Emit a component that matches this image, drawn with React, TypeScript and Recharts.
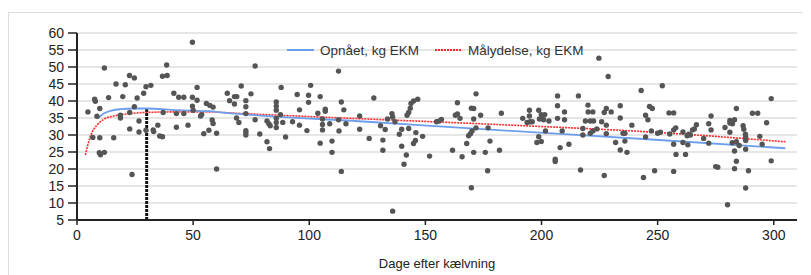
import { ComposedChart, CartesianGrid, Line, Scatter, XAxis, YAxis } from "recharts";

const FONT = '"Liberation Sans", Arial, sans-serif';

// observed cows: [day after calving, kg EKM]
const cowPoints: [number, number][] = [
  [4.7, 36.8], [7.6, 40.5], [7.9, 39.9], [6.8, 29.3], [8.6, 35.5], [9.8, 37.8], [9.8, 29.2],
  [9.6, 24.8], [10.1, 24.2], [11.8, 24.9], [11.8, 49.7], [13.6, 41.0], [15.8, 29.2], [16.8, 45.0],
  [18.7, 35.0], [18.7, 35.8], [19.7, 41.3], [20.8, 44.8], [22.6, 47.5], [24.7, 46.8], [22.7, 36.6],
  [22.7, 31.8], [23.7, 18.4], [24.7, 38.3], [25.9, 40.9], [26.7, 34.1], [26.7, 30.9], [28.7, 42.3],
  [29.7, 44.2], [31.8, 44.6], [29.7, 31.4], [32.8, 31.5], [33.0, 31.0], [34.8, 32.9], [35.6, 29.7],
  [36.8, 29.5], [36.8, 47.3], [38.8, 47.5], [38.6, 50.6], [37.1, 36.6], [41.7, 42.3], [42.8, 36.3],
  [42.8, 32.3], [43.8, 41.1], [46.0, 41.1], [46.0, 36.3], [47.8, 32.9], [49.7, 57.3], [49.7, 41.1],
  [49.7, 38.5], [50.0, 37.3], [51.7, 44.0], [51.7, 40.2], [53.2, 35.6], [53.7, 36.0], [54.6, 30.4],
  [55.7, 39.3], [57.2, 38.7], [58.6, 38.2], [56.8, 31.4], [58.2, 34.4], [58.6, 33.4], [60.1, 30.5],
  [60.1, 20.0],
  [64.7, 42.3], [65.7, 40.1], [67.8, 41.3], [68.8, 41.3], [67.8, 39.1], [68.7, 35.0], [69.7, 33.7],
  [70.7, 44.4], [72.7, 40.1], [72.7, 38.3], [72.7, 36.3], [72.7, 31.3], [72.7, 30.7], [72.7, 30.0],
  [74.9, 42.1], [76.7, 50.3], [76.7, 34.5], [78.7, 30.3], [81.8, 34.1], [82.6, 33.3], [83.2, 32.7],
  [81.8, 28.0], [82.9, 26.0], [85.8, 39.7], [85.8, 38.5], [85.8, 37.3], [85.8, 34.9], [85.8, 33.7],
  [85.8, 32.2], [87.9, 44.0], [87.6, 36.0], [88.6, 33.7], [89.8, 29.4], [92.8, 33.9], [94.8, 41.9],
  [95.8, 37.4], [95.8, 32.9], [99.0, 31.3], [99.7, 41.7], [99.7, 39.6], [100.6, 44.6], [103.7, 36.4],
  [104.7, 41.3], [104.7, 27.6], [105.7, 34.7], [105.7, 33.1], [105.7, 31.5], [106.9, 37.6],
  [106.9, 37.0], [108.8, 33.3], [109.8, 28.2], [109.8, 24.9], [112.6, 48.8], [112.6, 34.5],
  [112.8, 31.2], [113.8, 39.7], [113.8, 19.3], [114.9, 37.4], [115.8, 33.3], [121.7, 35.6],
  [121.7, 31.7],
  [125.8, 29.0], [127.8, 40.9], [130.7, 32.7], [132.7, 31.6], [131.7, 28.5], [131.7, 25.5],
  [133.7, 34.7], [135.6, 36.3], [135.9, 35.3], [136.9, 33.9], [135.9, 7.6], [138.8, 30.2],
  [139.8, 31.7], [139.8, 26.7], [140.8, 21.4], [141.8, 24.1], [142.1, 35.8], [142.8, 36.6],
  [143.5, 37.9], [143.8, 39.3], [144.9, 40.0], [146.7, 40.5], [142.8, 31.9], [144.9, 27.5],
  [145.7, 28.4], [145.9, 30.7], [148.8, 29.6], [151.8, 23.8], [154.8, 33.9], [156.0, 34.1],
  [156.9, 34.6], [161.7, 25.5], [162.9, 35.8], [163.8, 36.2], [164.9, 34.9], [163.8, 39.5],
  [165.8, 23.6], [167.8, 27.5], [168.6, 29.8], [169.4, 30.4], [170.1, 31.2], [169.8, 14.5],
  [169.8, 37.9], [170.8, 37.8], [170.8, 24.9], [170.8, 34.7], [171.8, 42.1], [171.8, 32.1],
  [173.8, 35.8], [175.8, 24.9], [176.8, 19.5], [177.0, 32.1], [177.8, 28.2], [181.9, 25.5],
  [182.7, 36.4],
  [191.9, 34.9], [193.8, 33.7], [195.1, 33.9], [194.8, 37.3], [194.8, 35.6], [196.0, 33.9],
  [198.0, 27.8], [198.8, 37.3], [199.9, 36.0], [200.6, 35.6], [201.4, 36.0], [198.8, 29.5],
  [199.9, 28.1], [199.1, 34.7], [200.9, 34.5], [201.7, 31.2], [203.2, 34.1], [205.9, 22.9],
  [205.9, 22.2], [206.9, 41.5], [206.9, 38.6], [206.9, 34.9], [208.0, 26.3], [208.9, 31.2],
  [209.9, 36.8], [209.9, 34.5], [211.8, 27.3], [215.9, 41.5], [216.8, 19.7], [217.8, 31.9],
  [217.8, 30.0], [218.9, 34.1], [220.0, 38.8], [220.1, 36.8], [221.0, 34.1], [222.1, 36.8],
  [222.4, 34.1], [221.0, 30.5], [222.1, 31.2], [223.8, 31.8], [224.7, 52.6], [225.9, 33.9],
  [227.0, 36.6], [227.9, 37.8], [227.9, 32.9], [228.7, 47.2], [227.0, 18.1], [227.9, 30.4],
  [230.0, 36.8], [231.9, 27.8], [233.9, 38.6], [233.9, 35.0], [233.9, 25.6], [235.1, 30.5],
  [235.9, 30.5], [235.9, 28.2], [236.8, 24.9], [238.9, 32.9], [242.9, 43.1], [243.9, 17.5],
  [244.8, 35.8], [245.8, 34.5], [244.8, 29.4], [246.5, 38.4], [247.7, 37.8], [247.3, 31.2],
  [248.7, 19.5],
  [250.0, 30.5], [251.2, 30.8], [252.0, 44.5], [254.9, 36.5], [256.9, 36.5], [255.2, 30.3],
  [256.9, 31.5], [257.8, 32.1], [256.9, 27.3], [257.9, 24.3], [256.9, 19.3], [260.9, 30.9],
  [260.9, 27.8], [262.0, 24.3], [262.7, 29.8], [263.4, 30.2], [264.1, 30.0], [263.0, 27.1],
  [265.0, 31.5], [265.8, 31.8], [266.7, 33.0], [269.8, 29.0], [272.0, 33.3], [272.0, 27.6],
  [273.0, 35.6], [273.0, 31.5], [275.0, 20.7], [275.9, 20.5], [279.0, 32.2], [280.1, 9.5],
  [281.1, 34.3], [281.1, 33.5], [282.2, 33.3], [283.1, 34.5], [281.1, 30.8], [282.1, 27.7],
  [283.9, 28.0], [283.1, 25.3], [283.9, 22.3], [283.1, 20.1], [283.9, 37.8], [285.1, 26.9],
  [286.8, 32.7], [287.1, 31.7], [287.8, 30.2], [287.9, 29.4], [287.9, 28.4], [287.9, 25.8],
  [287.9, 14.4], [289.1, 19.5], [290.8, 36.4], [293.1, 36.4], [294.0, 29.6], [295.0, 27.3],
  [296.9, 33.6], [298.9, 40.7], [298.9, 22.4],
];

// Opnået, kg EKM (blue)
const achievedDays = [9, 11.5, 14.4, 18.7, 24, 30, 43, 57, 63, 125, 187, 249, 305];
const achievedValues = [35.0, 36.3, 37.1, 37.6, 37.8, 37.8, 37.3, 37.0, 36.6, 33.9, 31.2, 28.6, 26.1];

// Målydelse, kg EKM (red, dotted)
const targetDays = [3.6, 5.7, 8.6, 11.5, 15.8, 21.6, 28.7, 43, 57.5, 63, 125, 187, 249, 305];
const targetValues = [24.1, 29.5, 32.9, 34.6, 35.6, 36.2, 36.6, 36.8, 36.8, 36.6, 34.7, 32.9, 30.8, 28.0];

// peak marker
const peakDay = 30;
const peakRange = [5, 37.8];

const yTicks = [5, 10, 15, 20, 25, 30, 35, 40, 45, 50, 55, 60];
const xTicks = [0, 50, 100, 150, 200, 250, 300];

const legendItems = [
  { name: "Opnået, kg EKM", color: "#6d9eeb", dash: undefined },
  { name: "Målydelse, kg EKM", color: "#ff2a2a", dash: "2 1" },
];

const scatterData = cowPoints.map(([day, v]) => ({ day, v }));
const achievedData = achievedDays.map((day, i) => ({ day, v: achievedValues[i] }));
const targetData = targetDays.map((day, i) => ({ day, v: targetValues[i] }));
const peakData = peakRange.map((v) => ({ day: peakDay, v }));

const Dot = (props: any) => <circle cx={props.cx} cy={props.cy} r={2.7} fill="#555" />;

const LegendBox = () => (
  <div
    style={{
      position: "absolute",
      top: 24,
      left: 278,
      display: "flex",
      alignItems: "center",
      height: 26,
      fontFamily: FONT,
      fontSize: 13.5,
      color: "#333",
    }}
  >
    {legendItems.map((item, i) => (
      <div key={item.name} style={{ display: "flex", alignItems: "center", marginRight: i === 0 ? 16 : 0 }}>
        <svg width={27} height={6} style={{ marginRight: 6 }}>
          <line x1={0} y1={3} x2={27} y2={3} stroke={item.color} strokeWidth={2} strokeDasharray={item.dash} />
        </svg>
        <span style={{ whiteSpace: "nowrap" }}>{item.name}</span>
      </div>
    ))}
  </div>
);

export default function App() {
  return (
    <div style={{ paddingTop: 4 }}>
      <div
        style={{
          width: 803,
          height: 263,
          borderTop: "1px solid #ddd",
          borderLeft: "1px solid #ddd",
          boxSizing: "border-box",
          position: "relative",
          fontFamily: FONT,
        }}
      >
        <ComposedChart width={802} height={262} margin={{ top: 20, right: 14, left: 0, bottom: 5 }}>
          <CartesianGrid vertical={false} stroke="#e6e6e6" strokeWidth={2} />
          <XAxis
            type="number"
            dataKey="day"
            domain={[0, 310]}
            ticks={xTicks}
            allowDataOverflow
            height={50}
            tickSize={5}
            tickMargin={5}
            axisLine={{ stroke: "#222", strokeWidth: 2 }}
            tickLine={{ stroke: "#222", strokeWidth: 1.5 }}
            tick={{ fill: "#222", fontSize: 14, fontFamily: FONT }}
            label={{ value: "Dage efter kælvning", position: "insideBottom", offset: 2, fill: "#222", fontSize: 13, fontFamily: FONT }}
          />
          <YAxis
            type="number"
            dataKey="v"
            domain={[5, 60]}
            ticks={yTicks}
            interval={0}
            width={68}
            tickSize={9}
            tickMargin={4}
            axisLine={{ stroke: "#222", strokeWidth: 2 }}
            tickLine={{ stroke: "#222", strokeWidth: 1.5 }}
            tick={{ fill: "#222", fontSize: 14, fontFamily: FONT }}
          />
          <Scatter data={scatterData} dataKey="v" shape={Dot} isAnimationActive={false} legendType="none" />
          <Line
            data={peakData}
            dataKey="v"
            stroke="#111"
            strokeWidth={3}
            strokeDasharray="3 1"
            dot={false}
            activeDot={false}
            isAnimationActive={false}
            legendType="none"
          />
          <Line
            data={targetData}
            dataKey="v"
            type="monotone"
            stroke="#ff2a2a"
            strokeWidth={1.6}
            strokeDasharray="2 1"
            dot={false}
            activeDot={false}
            isAnimationActive={false}
          />
          <Line
            data={achievedData}
            dataKey="v"
            type="monotone"
            stroke="#6d9eeb"
            strokeWidth={1.8}
            dot={false}
            activeDot={false}
            isAnimationActive={false}
          />
        </ComposedChart>
        <LegendBox />
      </div>
    </div>
  );
}
